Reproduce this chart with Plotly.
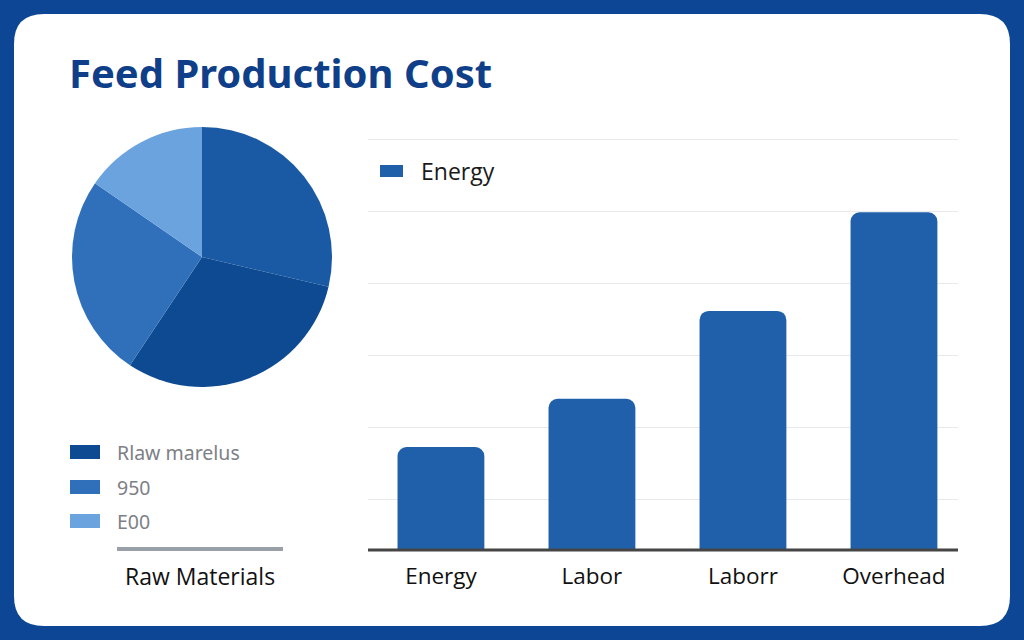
import plotly.graph_objects as go

W, H = 1024, 640

# ---- data ----
pie_labels = ["Raw materials (a)", "Raw materials (b)", "950", "E00"]
pie_values = [28.7, 30.7, 25.3, 15.4]
pie_colors = ["#1a5aa5", "#0e4a92", "#3070bb", "#6ba3de"]

legend_labels = ["Rlaw marelus", "950", "E00"]
legend_colors = ["#0e4a92", "#3070bb", "#6ba3de"]

bar_categories = ["Energy", "Labor", "Laborr", "Overhead"]
bar_values = [143, 210, 332, 469]
bar_name = "Energy"

title_text = "Feed Production Cost"
pie_caption = "Raw Materials"

BG = "#0c4694"
BAR = "#2060aa"


def px(x):
    return x / W


def py(y):
    return 1 - y / H


fig = go.Figure()

fig.add_trace(go.Pie(
    labels=pie_labels, values=pie_values,
    marker=dict(colors=pie_colors, line=dict(width=0)),
    sort=False, direction="clockwise", rotation=0,
    textinfo="none", hoverinfo="label+value", showlegend=False,
    domain=dict(x=[px(72), px(332)], y=[py(387), py(127)]),
))

fig.add_trace(go.Bar(
    x=bar_categories, y=bar_values, name=bar_name,
    marker=dict(color=BAR, cornerradius=9, line=dict(width=0)),
    width=0.575, showlegend=False,
))

# card background (rounded)
x0, x1, y0, y1, r = 14, 1010, 14, 626, 30
def P(x, y):
    return f"{px(x):.5f},{py(y):.5f}"
path = (f"M {P(x0+r, y0)} L {P(x1-r, y0)} Q {P(x1, y0)} {P(x1, y0+r)} "
        f"L {P(x1, y1-r)} Q {P(x1, y1)} {P(x1-r, y1)} "
        f"L {P(x0+r, y1)} Q {P(x0, y1)} {P(x0, y1-r)} "
        f"L {P(x0, y0+r)} Q {P(x0, y0)} {P(x0+r, y0)} Z")
shapes = [dict(type="path", xref="paper", yref="paper", path=path,
               fillcolor="white", line=dict(width=0), layer="below")]

annotations = [dict(text=f"<b>{title_text}</b>", xref="paper", yref="paper",
                    x=px(67), y=py(73), xanchor="left", yanchor="middle",
                    showarrow=False,
                    font=dict(family="Noto Sans", size=40, color="#0f3f88"))]

# pie legend
leg_y = [452, 487, 521]
for lab, col, yy in zip(legend_labels, legend_colors, leg_y):
    shapes.append(dict(type="rect", xref="paper", yref="paper",
                       x0=px(70), x1=px(100), y0=py(yy + 7), y1=py(yy - 7),
                       fillcolor=col, line=dict(width=0)))
    annotations.append(dict(text=lab, xref="paper", yref="paper",
                            x=px(115), y=py(yy), xanchor="left", yanchor="middle",
                            showarrow=False,
                            font=dict(family="Noto Sans", size=19.5, color="#7d8086")))
shapes.append(dict(type="line", xref="paper", yref="paper",
                   x0=px(117), x1=px(283), y0=py(549), y1=py(549),
                   line=dict(color="#9aa0a8", width=4)))
annotations.append(dict(text=pie_caption, xref="paper", yref="paper",
                        x=px(200), y=py(576), xanchor="center", yanchor="middle",
                        showarrow=False,
                        font=dict(family="Open Sans", size=23, color="#111111")))

# bar legend
shapes.append(dict(type="rect", xref="paper", yref="paper",
                   x0=px(380), x1=px(403), y0=py(177), y1=py(165),
                   fillcolor=BAR, line=dict(width=0)))
annotations.append(dict(text=bar_name, xref="paper", yref="paper",
                        x=px(419), y=py(171), xanchor="left", yanchor="middle",
                        showarrow=False,
                        font=dict(family="Open Sans", size=23, color="#1a1a1a")))

# baseline
shapes.append(dict(type="line", xref="paper", yref="paper",
                   x0=px(368), x1=px(958), y0=py(550), y1=py(550),
                   line=dict(color="#454545", width=3)))

fig.update_layout(
    width=W, height=H,
    margin=dict(l=0, r=0, t=0, b=0),
    paper_bgcolor=BG, plot_bgcolor="rgba(0,0,0,0)",
    shapes=shapes, annotations=annotations,
    xaxis=dict(domain=[px(368), px(958)], range=[-0.483, 3.424],
               showgrid=False, zeroline=False, showline=False,
               ticks="", tickfont=dict(family="Open Sans", size=22.5, color="#111111"),
               ticklabelstandoff=10, fixedrange=True),
    yaxis=dict(domain=[py(550), py(134)], range=[0, 577.8],
               tick0=70, dtick=100, showticklabels=False,
               showgrid=True, gridcolor="#e9e9e9", gridwidth=1,
               zeroline=False, showline=False, fixedrange=True),
    showlegend=False,
)

fig.write_html("out.html")
